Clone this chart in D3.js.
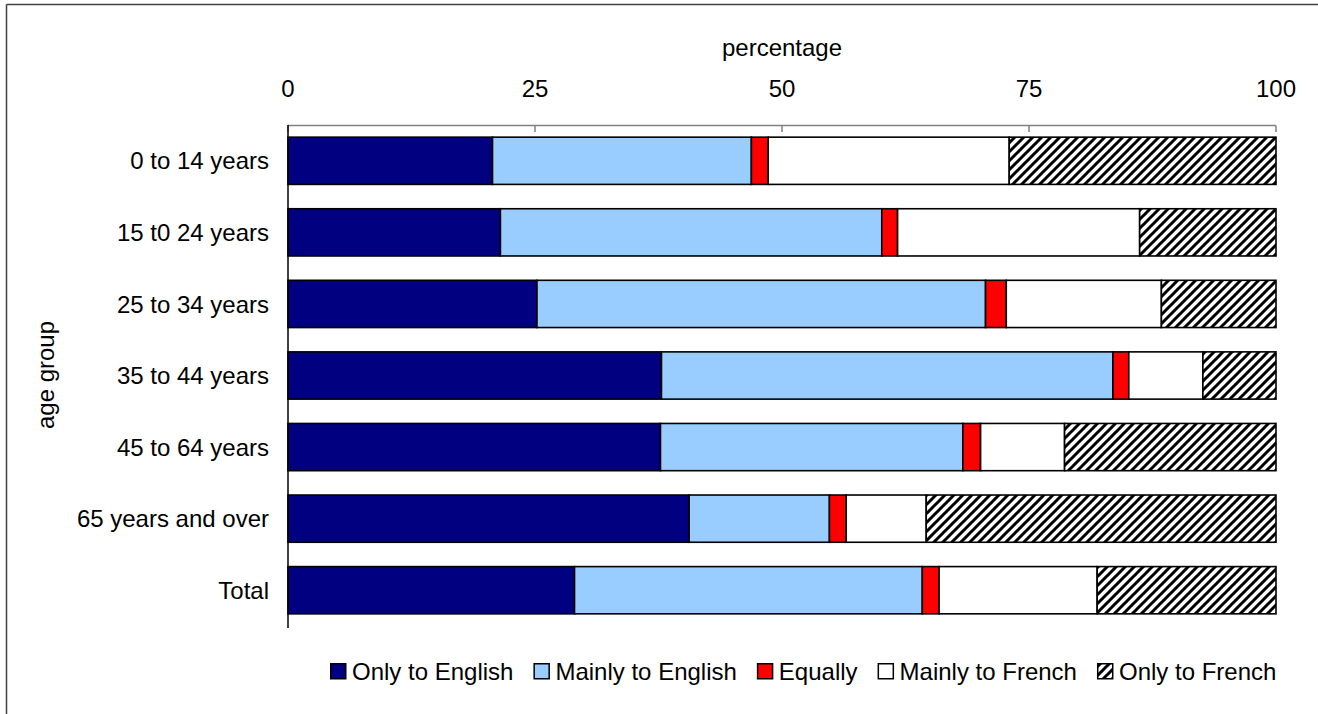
<!DOCTYPE html>
<html>
<head>
<meta charset="utf-8">
<script src="https://cdn.jsdelivr.net/npm/d3@7"></script>
<style>
  html, body { margin: 0; padding: 0; background: #fff; overflow: hidden; }
  svg { display: block; overflow: hidden; font-family: "Liberation Sans", Arial, sans-serif; }
</style>
</head>
<body>
<svg id="chart" width="1318" height="714"></svg>
<script>
const categories = ["0 to 14 years", "15 t0 24 years", "25 to 34 years", "35 to 44 years", "45 to 64 years", "65 years and over", "Total"];
const seriesNames = ["Only to English", "Mainly to English", "Equally", "Mainly to French", "Only to French"];
const onlyEnglish   = [20.7, 21.5, 25.2, 37.8, 37.7, 40.6, 29.0];
const mainlyEnglish = [26.2, 38.6, 45.4, 45.7, 30.6, 14.2, 35.2];
const equally       = [1.7, 1.6, 2.1, 1.6, 1.8, 1.7, 1.7];
const mainlyFrench  = [24.4, 24.5, 15.7, 7.5, 8.5, 8.1, 16.0];
const onlyFrench    = [27.0, 13.8, 11.6, 7.4, 21.4, 35.4, 18.1];
const xTicks = [0, 25, 50, 75, 100];
const xTitle = "percentage";
const yTitle = "age group";

const seriesValues = [onlyEnglish, mainlyEnglish, equally, mainlyFrench, onlyFrench];
const fills = ["#000080", "#99CCFF", "#FF0000", "#FFFFFF", "url(#hatch)"];

const svg = d3.select("#chart");
const FONT = 24;

// hatch pattern
const defs = svg.append("defs");
const pat = defs.append("pattern").attr("id", "hatch")
  .attr("patternUnits", "userSpaceOnUse").attr("width", 9).attr("height", 9);
pat.append("rect").attr("width", 9).attr("height", 9).attr("fill", "#fff");
pat.append("path").attr("d", "M-2,2 L2,-2 M0,9 L9,0 M7,11 L11,7")
  .attr("stroke", "#000").attr("stroke-width", 3);

// outer frame (only left and top edges fall inside the picture)
svg.append("line").attr("x1", 6.5).attr("x2", 6.5).attr("y1", 4.5).attr("y2", 714)
  .attr("stroke", "#404040").attr("stroke-width", 1.5);
svg.append("line").attr("x1", 6.5).attr("x2", 1318).attr("y1", 4.5).attr("y2", 4.5)
  .attr("stroke", "#404040").attr("stroke-width", 1.5);

const x = d3.scaleLinear().domain([0, 100]).range([288, 1276]);
const y = d3.scaleBand().domain(categories).range([125, 626]).paddingInner(0.34).paddingOuter(0.17);

// stacked data
const rows = categories.map((c, i) => {
  const o = { cat: c };
  seriesNames.forEach((s, j) => o[s] = seriesValues[j][i]);
  return o;
});
const stack = d3.stack().keys(seriesNames)(rows);

const g = svg.append("g");
stack.forEach((layer, j) => {
  g.selectAll(null).data(layer).enter().append("rect")
    .attr("x", d => x(d[0]))
    .attr("y", d => y(d.data.cat))
    .attr("width", d => x(d[1]) - x(d[0]))
    .attr("height", y.bandwidth())
    .attr("fill", fills[j])
    .attr("stroke", "#000")
    .attr("stroke-width", 1.6);
});

// top axis
const ax = svg.append("g").attr("transform", "translate(0,125.5)");
ax.append("line").attr("x1", x(0)).attr("x2", x(100)).attr("stroke", "#808080").attr("stroke-width", 1.5);
ax.selectAll(".tk").data(xTicks).enter().append("line")
  .attr("x1", d => x(d)).attr("x2", d => x(d)).attr("y1", 0).attr("y2", 6.5)
  .attr("stroke", "#808080").attr("stroke-width", 1.5);
svg.append("g").selectAll("text").data(xTicks).enter().append("text")
  .attr("x", d => x(d)).attr("y", 97).attr("text-anchor", "middle")
  .attr("font-size", FONT).attr("fill", "#000").text(d => d);

svg.append("text").attr("x", (x(0) + x(100)) / 2).attr("y", 56)
  .attr("text-anchor", "middle").attr("font-size", FONT).text(xTitle);

// left axis line
svg.append("line").attr("x1", 288).attr("x2", 288).attr("y1", 125).attr("y2", 628)
  .attr("stroke", "#000").attr("stroke-width", 1.5);

// y labels
svg.append("g").selectAll("text").data(categories).enter().append("text")
  .attr("x", 269).attr("y", d => y(d) + y.bandwidth() / 2)
  .attr("dy", "0.36em").attr("text-anchor", "end").attr("font-size", FONT).text(d => d);

svg.append("text").attr("transform", "translate(54,375) rotate(-90)")
  .attr("text-anchor", "middle").attr("font-size", FONT).text(yTitle);

// legend
const leg = svg.append("g");
let lx = 330;
seriesNames.forEach((s, j) => {
  leg.append("rect").attr("x", lx + 0.75).attr("y", 663.75).attr("width", 15).attr("height", 15)
    .attr("fill", fills[j]).attr("stroke", "#000").attr("stroke-width", 1.5);
  const t = leg.append("text").attr("x", lx + 22).attr("y", 680).attr("font-size", FONT).text(s);
  lx = lx + 22 + t.node().getComputedTextLength() + 20;
});
</script>
</body>
</html>
